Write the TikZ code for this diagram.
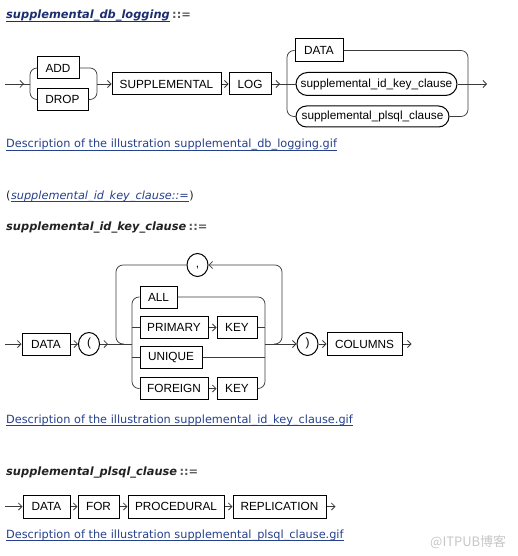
\documentclass[tikz,border=0pt]{standalone}
\usepackage{fontspec}
\setmainfont{Liberation Sans}
\newfontfamily\webfont{DejaVu Sans}
\newfontfamily\cjkfont{Noto Sans CJK SC}
\usetikzlibrary{arrows.meta,shapes.misc,shapes.geometric}
\definecolor{linkblue}{RGB}{38,64,140}
\definecolor{titleblue}{RGB}{28,46,112}
\definecolor{headgray}{RGB}{34,34,34}
\definecolor{railgray}{RGB}{60,60,60}

\begin{document}
\begin{tikzpicture}[
    x=1pt,y=-1pt,
    every node/.style={font=\fontsize{11.8}{14}\selectfont},
    kw/.style={draw=black, line width=1pt, minimum height=22pt, inner sep=0pt},
    sub/.style={kw, rounded rectangle},
    sym/.style={draw=black, line width=1pt, ellipse, minimum width=21pt, minimum height=23pt, inner sep=0pt, text height=0.73em, text depth=0.21em},
    rail/.style={draw=railgray, line width=0.75pt, rounded corners=7pt},
    arr/.style={rail, -{Straight Barb[length=3.5pt,width=7pt]}},
    head/.style={font=\webfont\bfseries\itshape\fontsize{11.4}{13}\selectfont, text=headgray, inner sep=0pt, anchor=base west},
    defsign/.style={font=\webfont\bfseries\fontsize{11.4}{13}\selectfont, text=headgray!75, inner sep=0pt, anchor=base west, xshift=2pt},
    desc/.style={font=\webfont\fontsize{11.3}{13}\selectfont, text=linkblue, inner sep=0pt, anchor=base west},
    uline/.style={draw=linkblue, line width=0.6pt}
]
    \useasboundingbox (0,0) rectangle (518,556);

    % supplemental_db_logging
    \node[head, text=titleblue] (t1) at (6,19) {supplemental\_db\_logging};
    \node[defsign] (t1c) at (t1.base east) {::=};
    \draw[uline, draw=titleblue] ([yshift=-2.5pt]t1.base west) -- ([yshift=-2.5pt]t1.base east);

    \coordinate (s1) at (5,84);
    \coordinate (r1l) at (30,84);
    \coordinate (r1r) at (97,84);
    \coordinate (r2l) at (287,84);
    \coordinate (r2r) at (468,84);
    \node[kw, minimum width=42pt] (add) at (58,68) {ADD};
    \node[kw, minimum width=51pt] (drop) at (62.5,99.5) {DROP};
    \node[kw, minimum width=109pt] (sup) at (166.5,84) {SUPPLEMENTAL};
    \node[kw, minimum width=42pt] (log) at (250,84) {LOG};
    \node[kw, minimum width=48pt, minimum height=23pt] (data1) at (319,50.5) {DATA};
    \node[sub, minimum width=161pt, minimum height=23pt] (idk) at (376.5,84) {supplemental\_id\_key\_clause};
    \node[sub, minimum width=153pt, minimum height=21pt] (plsql) at (372.5,116.5) {supplemental\_plsql\_clause};

    \draw[rail] (s1) -- (r1l);
    \draw[arr] (s1) -- ++(19,0);
    \draw[rail] (add.west) -- (add.west -| r1l) -- (drop.west -| r1l) -- (drop.west);
    \draw[rail] (add.east) -- (add.east -| r1r) -- (drop.east -| r1r) -- (drop.east);
    \draw[arr] (r1r) -- (sup);
    \draw[arr] (sup) -- (log);
    \draw[rail] (log) -- (idk);
    \draw[arr] (log.east) -- ([xshift=-7pt]r2l);
    \draw[rail] (data1.west) -- (data1.west -| r2l) -- (plsql.west -| r2l) -- (plsql.west);
    \draw[rail] (data1.east) -- (data1.east -| r2r) -- (plsql.east -| r2r) -- (plsql.east);
    \draw[rail] (idk.east) -- (r2r);
    \draw[arr] (r2r) -- ++(19,0);

    \node[desc] (d1) at (6,148) {Description of the illustration supplemental\_db\_logging.gif};
    \draw[uline] ([yshift=-2.5pt]d1.base west) -- ([yshift=-2.5pt]d1.base east);

    % supplemental_id_key_clause
    \node[desc, text=headgray] (p1) at (6,199) {(};
    \node[desc, font=\webfont\itshape\fontsize{11.3}{13}\selectfont] (lk) at (p1.base east) {supplemental\_id\_key\_clause::=};
    \node[desc, text=headgray] (p2) at (lk.base east) {)};
    \draw[uline] ([yshift=-2.5pt]lk.base west) -- ([yshift=-2.5pt]lk.base east);

    \node[head] (t2) at (6,230) {supplemental\_id\_key\_clause};
    \node[defsign] (t2c) at (t2.base east) {::=};

    \coordinate (s2) at (5,344);
    \coordinate (lo) at (116,344);
    \coordinate (li) at (132,344);
    \coordinate (ri) at (265,344);
    \coordinate (ro) at (282,344);
    \node[kw, minimum width=48pt] (data2) at (46,344) {DATA};
    \node[sym] (lp) at (89,344) {(};
    \node[sym] (comma) at (197.5,265) {,};
    \node[kw, minimum width=37pt] (all) at (158.5,297) {ALL};
    \node[kw, minimum width=68pt] (primary) at (174,327.5) {PRIMARY};
    \node[kw, minimum width=40pt] (key1) at (237,327.5) {KEY};
    \node[kw, minimum width=62pt] (unique) at (171,357) {UNIQUE};
    \node[kw, minimum width=68pt] (foreign) at (174,388.5) {FOREIGN};
    \node[kw, minimum width=40pt] (key2) at (237,388.5) {KEY};
    \node[sym] (rp) at (307.5,344) {)};
    \node[kw, minimum width=75pt, minimum height=23pt] (cols) at (364.5,344) {COLUMNS};

    \draw[arr] (s2) -- (data2);
    \draw[arr] (data2) -- (lp);
    \draw[rail] (lp.east) -- (li);
    \draw[arr] (lp.east) -- ++(8,0);
    \draw[rail] ([xshift=8pt]lo) -- (lo) -- (lo |- comma) -- (comma.west);
    \draw[arr] ([xshift=-8pt]ro) -- (ro) -- (ro |- comma) -- (comma.east);
    \draw[rail] (all.west) -- (all.west -| li) -- (foreign.west -| li) -- (foreign.west);
    \draw[rail] (primary.west -| li) -- (primary.west);
    \draw[rail] (unique.west -| li) -- (unique.west);
    \draw[rail] (all.east) -- (all.east -| ri) -- (key2.east -| ri) -- (key2.east);
    \draw[rail] (key1.east) -- (key1.east -| ri);
    \draw[rail] (unique.east) -- (unique.east -| ri);
    \draw[arr] (primary) -- (key1);
    \draw[arr] (foreign) -- (key2);
    \draw[arr] (ri) -- (rp);
    \draw[arr] (rp) -- (cols);
    \draw[arr] (cols.east) -- ++(9,0);

    \node[desc] (d2) at (6,423) {Description of the illustration supplemental\_id\_key\_clause.gif};
    \draw[uline] ([yshift=-2.5pt]d2.base west) -- ([yshift=-2.5pt]d2.base east);

    % supplemental_plsql_clause
    \node[head] (t3) at (6,475) {supplemental\_plsql\_clause};
    \node[defsign] (t3c) at (t3.base east) {::=};

    \coordinate (s3) at (5,506.5);
    \node[kw, minimum width=47pt, minimum height=23pt] (data3) at (46.5,506.5) {DATA};
    \node[kw, minimum width=41pt, minimum height=23pt] (for) at (98.5,506.5) {FOR};
    \node[kw, minimum width=96pt, minimum height=23pt] (proc) at (176,506.5) {PROCEDURAL};
    \node[kw, minimum width=93pt, minimum height=23pt] (repl) at (279.5,506.5) {REPLICATION};
    \draw[arr] (s3) -- (data3);
    \draw[arr] (data3) -- (for);
    \draw[arr] (for) -- (proc);
    \draw[arr] (proc) -- (repl);
    \draw[arr] (repl.east) -- ++(9,0);

    \node[desc] (d3) at (6,538) {Description of the illustration supplemental\_plsql\_clause.gif};
    \draw[uline] ([yshift=-2.5pt]d3.base west) -- ([yshift=-2.5pt]d3.base east);

    \node[font=\cjkfont\fontsize{13}{15}\selectfont, text=gray!45, anchor=base west, inner sep=0pt] (wm) at (430,546) {@ITPUB博客};
\end{tikzpicture}
\end{document}
